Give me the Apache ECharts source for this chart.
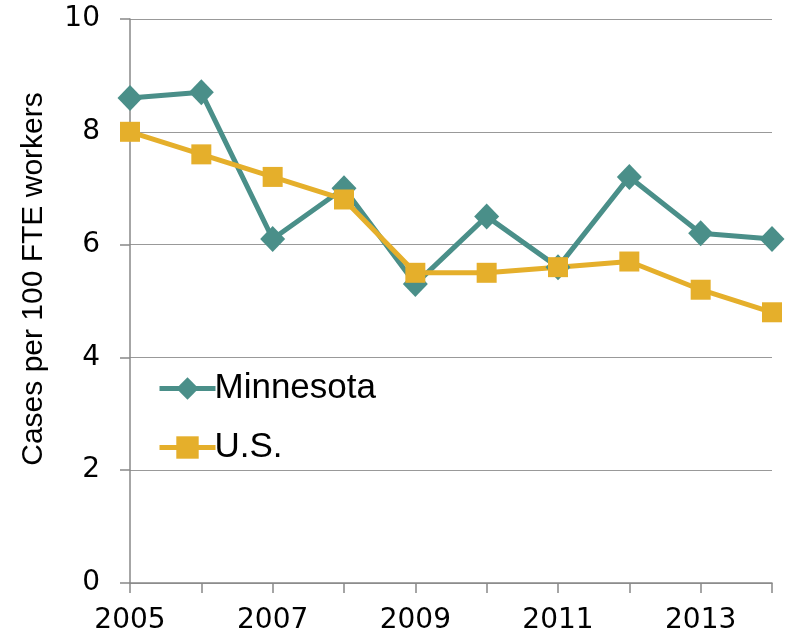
<!DOCTYPE html>
<html>
<head>
<meta charset="utf-8">
<script src="https://cdn.jsdelivr.net/npm/echarts@6/dist/echarts.min.js"></script>
<style>html,body{margin:0;padding:0;background:#fff}#c{width:788px;height:635px}</style>
</head>
<body>
<div id="c"></div>
<script>
const years = ['2005','2006','2007','2008','2009','2010','2011','2012','2013','2014'];
const minnesota = [8.6, 8.7, 6.1, 7.0, 5.3, 6.5, 5.6, 7.2, 6.2, 6.1];
const us = [8.0, 7.6, 7.2, 6.8, 5.5, 5.5, 5.6, 5.7, 5.2, 4.8];
const yTicks = [0, 2, 4, 6, 8, 10];
const yTitle = 'Cases per 100 FTE workers';

const font = 'Liberation Sans';
const numFont = 'DejaVu Sans';
const chart = echarts.init(document.getElementById('c'));
chart.setOption({
  animation: false,
  backgroundColor: '#fff',
  textStyle: {fontFamily: font},
  grid: {left: 130, right: 16, top: 19, bottom: 51, containLabel: false},
  legend: {
    orient: 'vertical', left: 152, top: 366, itemGap: 24,
    itemWidth: 56, itemHeight: 28,
    lineStyle: {width: 5},
    textStyle: {fontSize: 35, color: '#000', fontFamily: font, padding: [0,0,0,-6]},
    data: ['Minnesota', 'U.S.']
  },
  graphic: [{
    type: 'text',
    rotation: Math.PI / 2,
    style: {text: yTitle, font: '30px "Liberation Sans"', fill: '#000', textAlign: 'center', textVerticalAlign: 'middle'},
    position: [34, 279]
  }],
  xAxis: {
    type: 'category', data: years, boundaryGap: false,
    axisLine: {lineStyle: {color: '#888', width: 1.5}},
    axisTick: {show: true, length: 10, lineStyle: {color: '#888', width: 1.5}, interval: 0},
    axisLabel: {fontSize: 28, color: '#000', margin: 24, interval: 1, fontFamily: numFont},
    splitLine: {show: false}
  },
  yAxis: {
    type: 'value', min: yTicks[0], max: yTicks[yTicks.length-1], interval: 2,
    axisLine: {show: true, lineStyle: {color: '#888', width: 1.5}},
    axisTick: {show: true, length: 10, lineStyle: {color: '#888', width: 1.5}},
    axisLabel: {fontSize: 28, color: '#000', margin: 30, fontFamily: numFont},
    splitLine: {lineStyle: {color: '#999', width: 1.2}}
  },
  series: [
    {
      name: 'Minnesota', type: 'line', data: minnesota,
      symbol: 'diamond', symbolSize: [25, 26],
      lineStyle: {color: '#4A8F89', width: 5},
      itemStyle: {color: '#4A8F89'}
    },
    {
      name: 'U.S.', type: 'line', data: us,
      symbol: 'rect', symbolSize: 20,
      lineStyle: {color: '#E5AF2B', width: 5},
      itemStyle: {color: '#E5AF2B'}
    }
  ]
});
</script>
</body>
</html>
